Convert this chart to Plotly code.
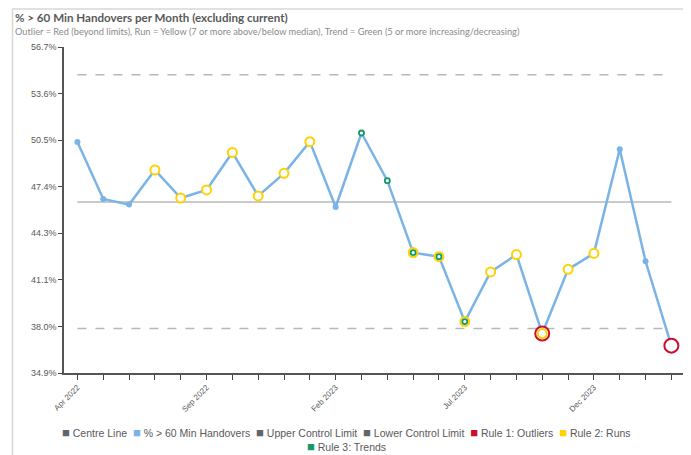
import plotly.graph_objects as go

months = ["Apr 2022", "May 2022", "Jun 2022", "Jul 2022", "Aug 2022", "Sep 2022",
          "Oct 2022", "Nov 2022", "Dec 2022", "Jan 2023", "Feb 2023", "Mar 2023",
          "Apr 2023", "May 2023", "Jun 2023", "Jul 2023", "Aug 2023", "Sep 2023",
          "Oct 2023", "Nov 2023", "Dec 2023", "Jan 2024", "Feb 2024", "Mar 2024"]
handovers = [50.35, 46.54, 46.16, 48.48, 46.6, 47.14, 49.65, 46.74, 48.25, 50.37, 46.0, 50.95,
             47.76, 42.95, 42.68, 38.34, 41.66, 42.82, 37.54, 41.83, 42.9, 49.86, 42.37, 36.73]
outlier_flag = [0, 0, 0, 0, 0, 0, 0, 0, 0, 0, 0, 0, 0, 0, 0, 0, 0, 0, 1, 0, 0, 0, 0, 1]
run_flag = [0, 0, 0, 1, 1, 1, 1, 1, 1, 1, 0, 0, 0, 1, 1, 1, 1, 1, 1, 1, 1, 0, 0, 0]
trend_flag = [0, 0, 0, 0, 0, 0, 0, 0, 0, 0, 0, 1, 1, 1, 1, 1, 0, 0, 0, 0, 0, 0, 0, 0]
centre_line = 46.34
upper_limit = 54.85
lower_limit = 37.87

x_labels = ["Apr 2022", "Sep 2022", "Feb 2023", "Jul 2023", "Dec 2023"]
y_ticks = [34.9, 38.01, 41.13, 44.24, 47.36, 50.47, 53.59, 56.7]
y_labels = ["34.9%", "38.0%", "41.1%", "44.3%", "47.4%", "50.5%", "53.6%", "56.7%"]

BLUE = "#7ab4e6"
GREY_LINE = "#b8b8b8"
RED = "#c8102e"
YELLOW = "#ffd100"
GREEN = "#139a6c"
DARK = "#5f656b"
TEXT = "#595959"

# the page body adds an 8px margin, so the figure is a bit smaller than the window
OFF = 8
FIG_W, FIG_H = 691 - OFF, 455 - OFF
L, T, W, H = 64 - OFF, 47 - OFF, 619, 326


def px(x):
    # window pixel -> paper x
    return (x - OFF - L) / W


def py(y):
    # window pixel -> paper y
    return (T + H - (y - OFF)) / H


def flagged(flags):
    return [v if f else None for v, f in zip(handovers, flags)]


n = len(months)
fig = go.Figure()
fig.add_trace(go.Scatter(x=months, y=[centre_line] * n, mode="lines", name="Centre Line",
                         line=dict(color=GREY_LINE, width=1.5), hoverinfo="skip"))
fig.add_trace(go.Scatter(x=months, y=[upper_limit] * n, mode="lines", name="Upper Control Limit",
                         line=dict(color=GREY_LINE, width=1.5, dash="dash"), hoverinfo="skip"))
fig.add_trace(go.Scatter(x=months, y=[lower_limit] * n, mode="lines", name="Lower Control Limit",
                         line=dict(color=GREY_LINE, width=1.5, dash="dash"), hoverinfo="skip"))
fig.add_trace(go.Scatter(x=months, y=handovers, mode="lines+markers", name="% > 60 Min Handovers",
                         line=dict(color=BLUE, width=2.5),
                         marker=dict(color=BLUE, size=6)))
fig.add_trace(go.Scatter(x=months, y=flagged(outlier_flag), mode="markers", name="Rule 1: Outliers",
                         marker=dict(color="white", size=14, line=dict(color=RED, width=2))))
fig.add_trace(go.Scatter(x=months, y=flagged(run_flag), mode="markers", name="Rule 2: Runs",
                         marker=dict(color="white", size=9, line=dict(color=YELLOW, width=2))))
fig.add_trace(go.Scatter(x=months, y=flagged(trend_flag), mode="markers", name="Rule 3: Trends",
                         marker=dict(color="white", size=5, line=dict(color=GREEN, width=1.8))))

fig.update_xaxes(type="category", categoryorder="array", categoryarray=months,
                 range=[-0.52, n - 1 + 0.45],
                 tickvals=months, ticktext=[m if m in x_labels else "" for m in months],
                 tickangle=-45, ticks="outside", ticklen=5, tickwidth=1, tickcolor="#444",
                 showline=True, linecolor="#555", linewidth=1.5, showgrid=False, zeroline=False,
                 tickfont=dict(family="Liberation Sans", size=8, color=TEXT))
fig.update_yaxes(range=[34.9, 56.7], tickvals=y_ticks, ticktext=y_labels,
                 ticks="outside", ticklen=4, tickwidth=1, tickcolor="#444",
                 showline=True, linecolor="#555", linewidth=1.5, showgrid=False, zeroline=False,
                 tickfont=dict(family="Liberation Sans", size=9, color=TEXT))

annotations = [
    dict(text="<b>% > 60 Min Handovers per Month (excluding current)</b>", x=px(13), y=py(17),
         xref="paper", yref="paper", xanchor="left", yanchor="middle", showarrow=False,
         font=dict(family="Lato", size=11.6, color=TEXT)),
    dict(text="Outlier = Red (beyond limits), Run = Yellow (7 or more above/below median), "
              "Trend = Green (5 or more increasing/decreasing)", x=px(13), y=py(31),
         xref="paper", yref="paper", xanchor="left", yanchor="middle", showarrow=False,
         font=dict(family="Lato", size=9.25, color="#8a8a8a")),
]

legend_rows = [
    [("Centre Line", DARK), ("% > 60 Min Handovers", BLUE), ("Upper Control Limit", DARK),
     ("Lower Control Limit", DARK), ("Rule 1: Outliers", RED), ("Rule 2: Runs", YELLOW)],
    [("Rule 3: Trends", GREEN)],
]
for row, ypix in zip(legend_rows, [432, 446]):
    text = "  ".join(f"<span style='color:{c};font-size:13px'>■</span> {name}" for name, c in row)
    annotations.append(dict(text=text, x=px(346), y=py(ypix), xref="paper", yref="paper",
                            xanchor="center", yanchor="middle", showarrow=False,
                            font=dict(family="Liberation Sans", size=10.5, color=TEXT)))

shapes = [
    dict(type="rect", xref="paper", yref="paper", x0=px(12.5), x1=px(686.5), y0=py(9), y1=py(470),
         line=dict(color="#d8d8d8", width=1.5), layer="below"),
]

fig.update_layout(width=FIG_W, height=FIG_H,
                  margin=dict(l=L, r=FIG_W - L - W, t=T, b=FIG_H - T - H),
                  paper_bgcolor="white", plot_bgcolor="white", showlegend=False,
                  annotations=annotations, shapes=shapes)

fig.write_html("out.html")
